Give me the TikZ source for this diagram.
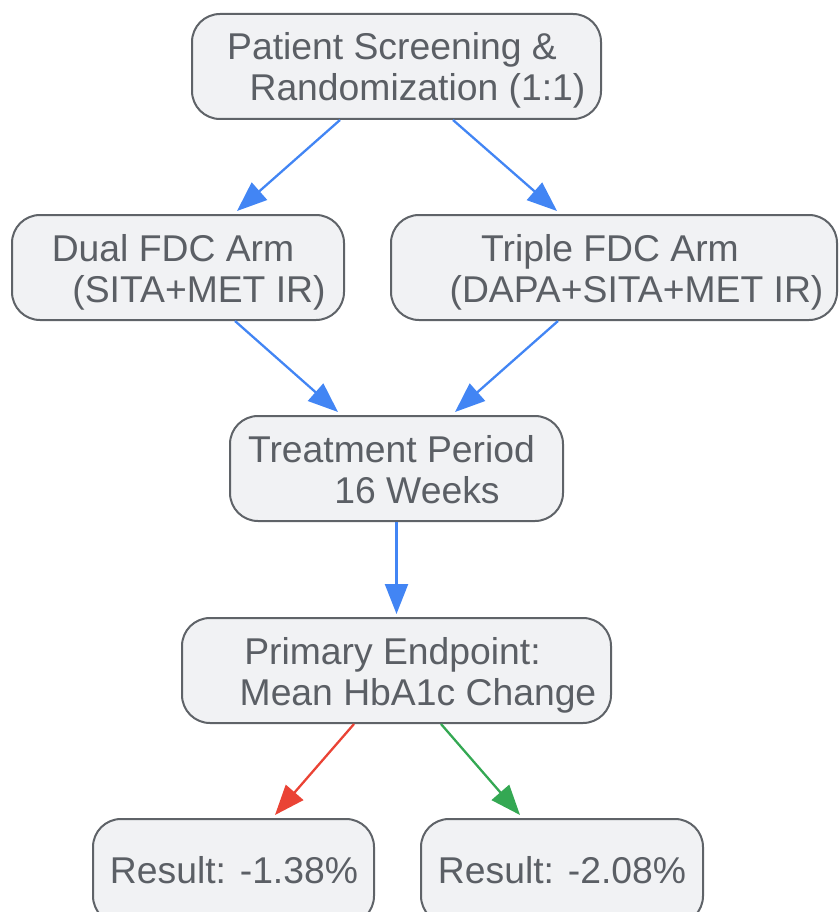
\documentclass[tikz,border=0pt]{standalone}
\usepackage{fontspec}
\setmainfont{Liberation Sans}
\usetikzlibrary{arrows.meta}
\definecolor{boxfill}{HTML}{F1F2F4}
\definecolor{boxline}{HTML}{5F6368}
\definecolor{txt}{HTML}{5B5F65}
\definecolor{ablue}{HTML}{4285F4}
\definecolor{ared}{HTML}{EA4335}
\definecolor{agreen}{HTML}{34A853}
\tikzset{
  stepbox/.style={draw=boxline, fill=boxfill, line width=2pt, rounded corners=28pt, inner sep=0pt},
  lbl/.style={anchor=base, inner sep=0pt, text=txt, font=\fontsize{37.3}{42}\selectfont},
  conn/.style={line width=2.3pt, -{Triangle[length=30pt,width=23pt]}},
}
\begin{document}
\begin{tikzpicture}[x=1pt,y=-1pt]
\useasboundingbox (0,0) rectangle (838,912);
\node[stepbox, minimum width=409pt, minimum height=105pt] (top) at (396.5,66.5) {};
\node[stepbox, minimum width=332pt, minimum height=105pt] (dual) at (178,267.5) {};
\node[stepbox, minimum width=446pt, minimum height=105pt] (triple) at (614,267.5) {};
\node[stepbox, minimum width=333pt, minimum height=105pt] (treat) at (396.5,468.5) {};
\node[stepbox, minimum width=429pt, minimum height=105pt] (prim) at (396.5,670.5) {};
\node[stepbox, minimum width=281pt, minimum height=105pt] (res1) at (233.5,871.5) {};
\node[stepbox, minimum width=282pt, minimum height=105pt] (res2) at (562,871.5) {};

\node[lbl] (t1) at (392,60) {Patient Screening \&};
\node[lbl] (t2) at (417.5,101) {Randomization (1:1)};
\node[lbl] (d1) at (173,261) {Dual FDC Arm};
\node[lbl] (d2) at (199,302) {(SITA+MET IR)};
\node[lbl] (r1) at (610,261) {Triple FDC Arm};
\node[lbl] (r2) at (636.5,302) {(DAPA+SITA+MET IR)};
\node[lbl] (p1) at (391.5,462) {Treatment Period};
\node[lbl] (p2) at (417,503) {16 Weeks};
\node[lbl] (e1) at (392.5,664) {Primary Endpoint:};
\node[lbl] (e2) at (418,705) {Mean HbA1c Change};
\node[lbl] (x1) at (234,883) {Result: -1.38\%};
\node[lbl] (x2) at (562,883) {Result: -2.08\%};

\draw[conn, ablue] ([xshift=-56.5pt]top.south) -- ([xshift=59pt,yshift=3pt]dual.north);
\draw[conn, ablue] ([xshift=56.5pt]top.south) -- ([xshift=-57pt,yshift=3pt]triple.north);
\draw[conn, ablue] ([xshift=57pt]dual.south) -- ([xshift=-58.5pt,yshift=3pt]treat.north);
\draw[conn, ablue] ([xshift=-56pt]triple.south) -- ([xshift=58.5pt,yshift=3pt]treat.north);
\draw[conn, ablue] (treat.south) -- ([yshift=3pt]prim.north);
\draw[conn, ared] ([xshift=-42.5pt]prim.south) -- ([xshift=41.5pt,yshift=3pt]res1.north);
\draw[conn, agreen] ([xshift=44.5pt]prim.south) -- ([xshift=-42pt,yshift=3pt]res2.north);
\end{tikzpicture}
\end{document}
